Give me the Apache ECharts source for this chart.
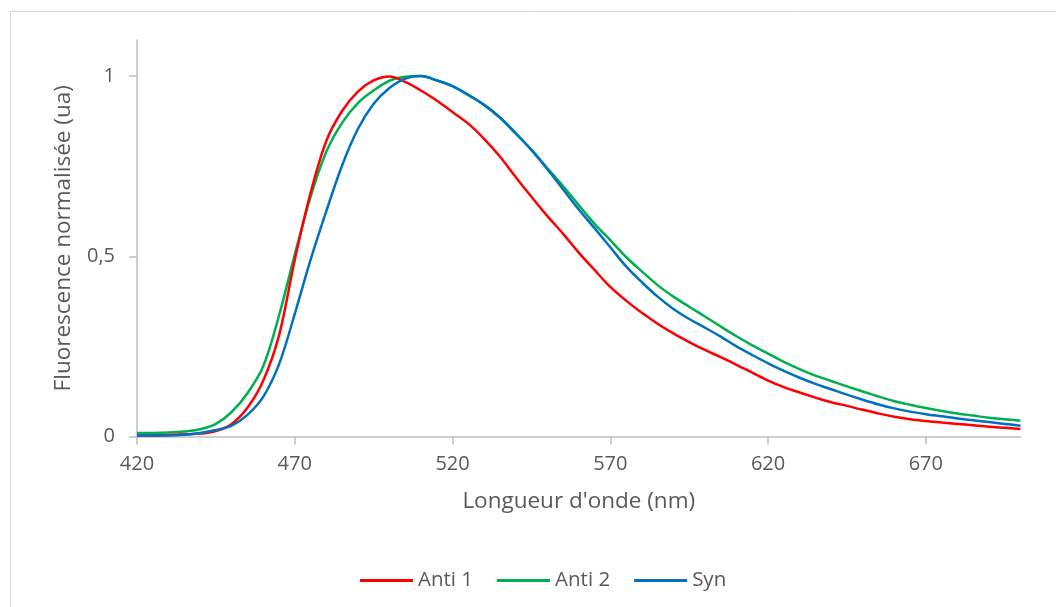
<!DOCTYPE html>
<html>
<head>
<meta charset="utf-8">
<script src="https://cdn.jsdelivr.net/npm/echarts@6/dist/echarts.min.js"></script>
<style>
html,body{margin:0;padding:0;background:#fff;}
#c{width:1056px;height:607px;}
</style>
</head>
<body>
<div id="c"></div>
<script>
const wavelengths = [420,425,430,435,440,445,450,455,460,465,470,475,480,485,490,495,500,505,510,515,520,525,530,535,540,545,550,555,560,565,570,575,580,585,590,595,600,605,610,615,620,625,630,635,640,645,650,655,660,665,670,675,680,685,690,695,700];
const anti1 = [0.003,0.003,0.004,0.006,0.008,0.015,0.035,0.08,0.155,0.28,0.49,0.675,0.82,0.903,0.957,0.988,0.999,0.984,0.96,0.932,0.90,0.868,0.826,0.777,0.72,0.665,0.612,0.563,0.51,0.462,0.415,0.377,0.343,0.313,0.286,0.262,0.24,0.22,0.199,0.177,0.155,0.137,0.122,0.108,0.095,0.085,0.074,0.064,0.055,0.048,0.043,0.039,0.035,0.031,0.027,0.024,0.021];
const anti2 = [0.010,0.010,0.011,0.014,0.02,0.035,0.068,0.12,0.195,0.335,0.505,0.665,0.79,0.87,0.925,0.96,0.987,0.998,1.0,0.988,0.972,0.947,0.92,0.885,0.84,0.795,0.745,0.695,0.642,0.59,0.545,0.498,0.458,0.42,0.388,0.36,0.333,0.305,0.278,0.253,0.23,0.207,0.187,0.169,0.154,0.139,0.125,0.111,0.098,0.088,0.079,0.071,0.064,0.058,0.052,0.048,0.044];
const syn = [0.003,0.003,0.003,0.005,0.01,0.018,0.03,0.06,0.11,0.2,0.34,0.49,0.625,0.752,0.853,0.923,0.967,0.993,1.0,0.988,0.972,0.948,0.92,0.885,0.842,0.795,0.742,0.686,0.63,0.578,0.525,0.472,0.428,0.388,0.354,0.326,0.302,0.277,0.25,0.226,0.203,0.182,0.163,0.146,0.131,0.116,0.102,0.089,0.078,0.069,0.062,0.056,0.05,0.045,0.04,0.035,0.030];
const seriesNames = ['Anti 1','Anti 2','Syn'];
const xTicks = [420,470,520,570,620,670];
const yTicks = [0,0.5,1];
const xTitle = "Longueur d'onde (nm)";
const yTitle = 'Fluorescence normalisée (ua)';

const colors = ['#ff0000','#00b050','#0070c0'];
const font = '"Open Sans", Lato, sans-serif';
const textColor = '#595959';
const axisColor = '#bfbfbf';

function pairs(ys){ return wavelengths.map((x,i)=>[x, ys[i]]); }

const chart = echarts.init(document.getElementById('c'), null, {renderer:'canvas'});
chart.setOption({
  animation:false,
  backgroundColor:'#fff',
  graphic:[{type:'rect', shape:{x:10.5,y:11.5,width:1200,height:800}, style:{fill:null, stroke:'#d9d9d9', lineWidth:1}, silent:true}],
  grid:{left:137, right:35.5, top:40, bottom:170.5, containLabel:false},
  legend:{
    data:seriesNames.map(n=>({name:n, icon:'rect'})), top:565, left:355,
    itemWidth:53, itemHeight:3, itemGap:24,
    textStyle:{color:textColor, fontSize:20.5, fontFamily:font}
  },
  xAxis:{
    type:'value', min:420, max:700, interval:50,
    name:xTitle, nameLocation:'middle', nameGap:54,
    nameTextStyle:{color:textColor, fontSize:22.5, fontFamily:font},
    axisLine:{show:true, lineStyle:{color:axisColor, width:1.5}},
    axisTick:{show:true, length:8, lineStyle:{color:axisColor, width:1.5}, customValues:xTicks},
    axisLabel:{color:textColor, fontSize:20, fontFamily:font, margin:18, customValues:xTicks},
    splitLine:{show:false}
  },
  yAxis:{
    type:'value', min:0, max:1.1, interval:0.5,
    name:yTitle, nameLocation:'middle', nameGap:62, nameRotate:90,
    nameTextStyle:{color:textColor, fontSize:22.5, fontFamily:font},
    axisLine:{show:true, lineStyle:{color:axisColor, width:1.5}},
    axisTick:{show:true, length:8, lineStyle:{color:axisColor, width:1.5}, customValues:yTicks},
    axisLabel:{color:textColor, fontSize:20, fontFamily:font, margin:22, customValues:yTicks,
      formatter:v=>String(v).replace('.',',')},
    splitLine:{show:false}
  },
  series:[
    {name:seriesNames[0], type:'line', data:pairs(anti1), symbol:'none', smooth:0.35, lineStyle:{color:colors[0], width:2.5}, itemStyle:{color:colors[0]}, z:3},
    {name:seriesNames[1], type:'line', data:pairs(anti2), symbol:'none', smooth:0.35, lineStyle:{color:colors[1], width:2.5}, itemStyle:{color:colors[1]}, z:2},
    {name:seriesNames[2], type:'line', data:pairs(syn), symbol:'none', smooth:0.35, lineStyle:{color:colors[2], width:2.5}, itemStyle:{color:colors[2]}, z:4}
  ]
});
</script>
</body>
</html>
